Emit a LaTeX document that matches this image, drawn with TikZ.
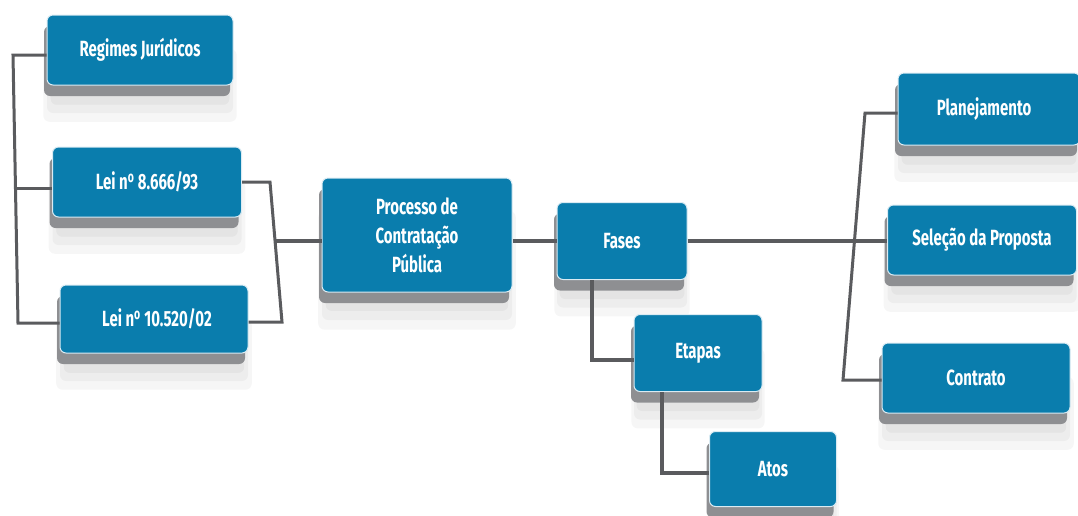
\documentclass[tikz,border=0pt]{standalone}
\usepackage{fontspec}
\setmainfont{Fira Sans}[FakeStretch=0.68]
\usetikzlibrary{shadows}
\definecolor{boxblue}{HTML}{0A7DAD}
\definecolor{shadowgray}{HTML}{8E8F92}
\definecolor{linegray}{HTML}{5A5B5E}
\newcommand{\nro}{n\textsuperscript{o}}
\tikzset{
  softshadow/.style={
    general shadow={fill=black, opacity=0.035, shadow xshift=0pt, shadow yshift=-34pt, shadow scale=1.04},
    general shadow={fill=black, opacity=0.035, shadow xshift=0pt, shadow yshift=-28pt},
    general shadow={fill=black, opacity=0.04, shadow xshift=0pt, shadow yshift=-22pt, shadow scale=0.96}},
  box/.style={rounded corners=6pt, fill=boxblue, draw=white!85!boxblue, line width=1pt,
    text=white, font=\bfseries\fontsize{22}{29}\selectfont, align=center, inner sep=2pt,
    softshadow,
    drop shadow={shadow xshift=-3pt, shadow yshift=-11pt, fill=shadowgray, opacity=1}},
  conn/.style={draw=linegray, line width=4.5pt},
  thinconn/.style={draw=linegray, line width=3pt}
}
\begin{document}
\begin{tikzpicture}[x=1pt,y=-1pt]
\useasboundingbox (0,0) rectangle (1078,515);
\coordinate (lt) at (13,55);
\coordinate (lm) at (15,188);
\coordinate (lb) at (18,323);
\coordinate (rt) at (270,182);
\coordinate (rm) at (276,241);
\coordinate (rb) at (282,322);
\coordinate (pt) at (865,113);
\coordinate (pb) at (843,380);
\coordinate (fe) at (592,360);
\coordinate (ea) at (662,473);

\node[box, minimum width=186pt, minimum height=70pt] (reg) at (140,50) {Regimes Jurídicos};
\node[box, minimum width=189pt, minimum height=70pt] (lei1) at (147,182) {Lei \nro\ 8.666/93};
\node[box, minimum width=188pt, minimum height=68pt] (lei2) at (154,319) {\hspace*{6pt}Lei \nro\ 10.520/02};
\node[box, minimum width=190pt, minimum height=114pt] (proc) at (417,235) {Processo de\\Contratação\\Pública};
\node[box, minimum width=130pt, minimum height=77pt] (fases) at (622,241) {Fases};
\node[box, minimum width=128pt, minimum height=77pt] (etapas) at (698,353) {Etapas};
\node[box, minimum width=127pt, minimum height=75pt] (atos) at (773,469) {Atos};
\node[box, minimum width=182pt, minimum height=72pt] (plan) at (989,109) {\hspace*{-10pt}Planejamento};
\node[box, minimum width=189pt, minimum height=70pt] (sel) at (982,240) {Seleção da Proposta};
\node[box, minimum width=188pt, minimum height=70pt] (cont) at (976,378) {Contrato};

% left bracket
\draw[thinconn] (lt -| reg.west) -- (lt) -- (lb) -- (lb -| lei2.west);
\draw[thinconn] (lm) -- (lm -| lei1.west);
% right bracket
\draw[thinconn] (rt -| lei1.east) -- (rt) -- (rb) -- (rb -| lei2.east);
\draw[conn] (rm) -- (rm -| proc.west);
% processo -> fases
\draw[conn] (proc.east |- fases) -- (fases.west);
% fases -> right side
\draw[conn] (fases.east) -- (fases.east -| sel.west);
\draw[thinconn] (pt -| plan.west) -- (pt) -- (pb) -- (pb -| cont.west);
% fases -> etapas -> atos
\draw[conn] (fe |- fases.south) -- (fe) -- (fe -| etapas.west);
\draw[conn] (ea |- etapas.south) -- (ea) -- (ea -| atos.west);
\end{tikzpicture}
\end{document}
